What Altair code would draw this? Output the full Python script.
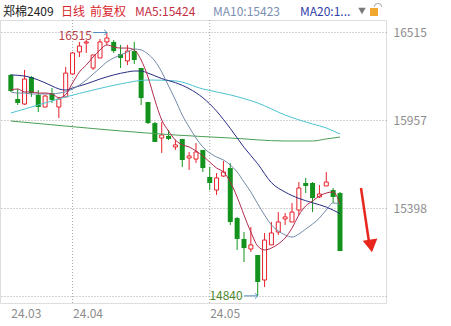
import altair as alt
import pandas as pd

# ---------------- data ----------------
opens = [16245, 16092, 16060, 16232, 16118, 16041, 16130, 16041, 16105, 16251,
         16391, 16448, 16289, 16353, 16455, 16455, 16378, 16334, 16397, 16289,
         16073, 15939, 15844, 15857, 15787, 15838, 15717, 15710, 15768, 15596,
         15513, 15602, 15653, 15335, 15202, 15138, 15100, 14941, 15164, 15246,
         15329, 15310, 15386, 15558, 15558, 15469, 15539, 15513, 15494]
highs = [16251, 16156, 16277, 16238, 16149, 16118, 16162, 16105, 16296, 16391,
         16455, 16467, 16372, 16474, 16515, 16467, 16436, 16436, 16455, 16289,
         16073, 15946, 15946, 15895, 15831, 15838, 15755, 15812, 15768, 15660,
         15621, 15698, 15685, 15342, 15246, 15278, 15100, 15240, 15310, 15373,
         15367, 15431, 15564, 15590, 15564, 15545, 15628, 15526, 15501]
lows = [16137, 16054, 16054, 16105, 16009, 16041, 16067, 15971, 16105, 16245,
        16359, 16385, 16277, 16353, 16436, 16385, 16289, 16308, 16315, 16054,
        15933, 15819, 15749, 15831, 15768, 15660, 15641, 15685, 15628, 15513,
        15482, 15596, 15291, 15132, 15055, 15119, 14840, 14896, 15164, 15227,
        15291, 15310, 15354, 15494, 15373, 15462, 15539, 15431, 15125]
closes = [16143, 16067, 16219, 16130, 16041, 16111, 16086, 16092, 16257, 16385,
          16429, 16455, 16372, 16455, 16480, 16397, 16353, 16397, 16340, 16098,
          15939, 15819, 15863, 15838, 15800, 15704, 15730, 15755, 15653, 15558,
          15590, 15628, 15310, 15202, 15144, 15164, 14928, 15195, 15240, 15310,
          15342, 15373, 15526, 15539, 15462, 15488, 15564, 15469, 15125]

ma5 = [16149, 16156, 16137, 16137, 16130, 16130, 16124, 16100, 16120, 16194,
       16264, 16308, 16359, 16404, 16436, 16423, 16416, 16416, 16404, 16340,
       16232, 16086, 15959, 15888, 15831, 15800, 15787, 15761, 15730, 15691,
       15653, 15628, 15564, 15469, 15354, 15246, 15157, 15132, 15144, 15170,
       15208, 15271, 15354, 15412, 15443, 15475, 15494, 15501, 15424]
ma10 = [16137, 16130, 16130, 16124, 16124, 16124, 16124, 16130, 16137, 16156,
        16181, 16213, 16251, 16289, 16328, 16353, 16372, 16391, 16410, 16404,
        16378, 16334, 16264, 16175, 16086, 15990, 15914, 15844, 15787, 15749,
        15723, 15704, 15672, 15628, 15564, 15501, 15425, 15354, 15291, 15253,
        15227, 15214, 15233, 15265, 15297, 15335, 15386, 15431, 15423]
ma20_idx = [0, 2, 4, 6, 7, 8, 9, 10, 11, 13, 15, 17, 18, 19, 20, 22, 24, 26, 28,
            30, 32, 34, 36, 38, 40, 42, 44, 46, 48]
ma20 = [16245, 16238, 16213, 16175, 16156, 16149, 16162, 16175, 16188, 16219,
        16245, 16264, 16270, 16270, 16257, 16222, 16196, 16158, 16100, 16015,
        15905, 15785, 15680, 15560, 15500, 15460, 15432, 15405, 15363]
ma60_idx = [0, 4, 8, 12, 16, 20, 24, 28, 32, 36, 40, 44, 46, 48]
ma60 = [16003, 16054, 16105, 16149, 16188, 16213, 16207, 16156, 16118, 16067,
        15990, 15933, 15908, 15869]
ma120_idx = [0, 8, 16, 24, 32, 40, 44, 46, 48]
ma120 = [15952, 15920, 15889, 15863, 15844, 15825, 15825, 15838, 15850]

date_ticks = [0, 9, 29]
date_labels = ["24.03", "24.04", "24.05"]
month_lines = [9, 29]
price_ticks = [14840, 15398, 15957, 16515]
price_labels = ["", "15398", "15957", "16515"]

high_i, high_v, high_t = 14, 16515, "16515"
low_i, low_v, low_t = 36, 14840, "14840"

header_texts = ["郑棉2409", "日线", "前复权", "MA5:15424", "MA10:15423", "MA20:1..."]

# ---------------- styles / layout ----------------
FONT = "Noto Sans CJK SC"
RED = "#e8202a"
GREEN = "#13931d"
C_MA5 = "#b02a4c"
C_MA10 = "#7189a8"
C_MA20 = "#262d82"
C_MA60 = "#4cc3d2"
C_MA120 = "#4a9f55"
GRID = "#a8a8a8"
LABEL = "#8c8c8c"
header_x = [3, 61, 90, 135, 213, 300]
header_colors = ["#222222", "#d8262e", "#d8262e", "#c42e44", "#7a8fb0", "#3040a8"]

W, H = 386, 283
xs = alt.Scale(domain=[-0.852, 53.98], nice=False, zero=False)
ys = alt.Scale(domain=[14794.6, 16594.5], nice=False, zero=False)

n = len(opens)
candles = pd.DataFrame({"i": list(range(n)), "open": opens, "high": highs,
                        "low": lows, "close": closes})
candles["dir"] = ["up" if c >= o else "down" for o, c in zip(opens, closes)]

x_expr = " : ".join(f"datum.value == {v} ? '{t}'" for v, t in zip(date_ticks, date_labels)) + " : ''"
y_expr = " : ".join(f"datum.value == {v} ? '{t}'" for v, t in zip(price_ticks, price_labels)) + " : ''"

x_axis = alt.Axis(values=date_ticks, labelExpr=x_expr, grid=False, domain=False, ticks=False,
                  labelAlign="left", labelBaseline="top", labelPadding=5,
                  labelColor=LABEL, labelFontSize=12, labelFont=FONT, title=None,
                  labelFlush=False, labelOverlap=False)
y_axis = alt.Axis(orient="right", values=price_ticks, labelExpr=y_expr, grid=True,
                  gridColor=GRID, gridDash=[1, 2], gridWidth=1, domain=False, ticks=False,
                  labelColor=LABEL, labelFontSize=12, labelFont=FONT, labelPadding=7,
                  labelBaseline="middle", title=None, labelOverlap=False, labelFlush=False)

def X(f="i"):
    return alt.X(f"{f}:Q", scale=xs, axis=x_axis, title=None)

def Y(f):
    return alt.Y(f"{f}:Q", scale=ys, axis=y_axis, title=None)

vlines = alt.Chart(pd.DataFrame({"i": month_lines})).mark_rule(
    color=GRID, strokeDash=[1, 2], strokeWidth=1).encode(
    x=X(), y=alt.value(0), y2=alt.value(H))

wicks = alt.Chart(candles).mark_rule(strokeWidth=1).encode(
    x=X(), y=Y("low"), y2="high:Q",
    color=alt.Color("dir:N", scale=alt.Scale(domain=["up", "down"], range=[RED, GREEN]), legend=None),
)
body_down = alt.Chart(candles).transform_filter("datum.dir == 'down'").mark_bar(
    size=5, color=GREEN).encode(x=X(), y=Y("open"), y2="close")
body_up = alt.Chart(candles).transform_filter("datum.dir == 'up'").mark_bar(
    size=4, fill="white", stroke=RED, strokeWidth=1).encode(x=X(), y=Y("open"), y2="close")

def ma_line(idx, vals, color):
    df = pd.DataFrame({"i": idx, "v": vals})
    return alt.Chart(df).mark_line(color=color, strokeWidth=1, interpolate="monotone").encode(
        x=X(), y=Y("v"))

ma_layers = [
    ma_line(ma120_idx, ma120, C_MA120),
    ma_line(ma60_idx, ma60, C_MA60),
    ma_line(ma20_idx, ma20, C_MA20),
    ma_line(list(range(n)), ma10, C_MA10),
    ma_line(list(range(n)), ma5, C_MA5),
]

def extreme(i, v, t, tcolor, dy):
    df = pd.DataFrame({"i": [i], "v": [v], "t": [t]})
    base = alt.Chart(df)
    arrow = base.transform_calculate(i0="datum.i - 2").mark_rule(
        color="#4f8fbd", strokeWidth=1).encode(x=X("i0"), x2="i", y=Y("v"))
    head = base.mark_point(shape="M-1,-1L0,0L-1,1", filled=False, size=30,
                           color="#4f8fbd", strokeWidth=1, opacity=1).encode(x=X(), y=Y("v"))
    label = base.mark_text(align="right", baseline="middle", dx=-15, dy=dy, font=FONT,
                           fontSize=12, color=tcolor).encode(x=X(), y=Y("v"), text="t:N")
    return [arrow, head, label]

ann = extreme(high_i, high_v, high_t, "#b8404a", 4) + extreme(low_i, low_v, low_t, "#4f8a30", 0)

header = alt.Chart(pd.DataFrame({"t": header_texts, "px": header_x, "c": header_colors})).mark_text(
    align="left", baseline="middle", font=FONT, fontSize=12).encode(
    x=alt.X("px:Q", scale=None), y=alt.value(-8), text="t:N",
    color=alt.Color("c:N", scale=None))

tri = alt.Chart(pd.DataFrame({"a": [0]})).mark_point(
    shape="triangle-down", filled=True, size=55, color="#7a7a7a", opacity=1).encode(
    x=alt.value(362), y=alt.value(-9))
lock = alt.Chart(pd.DataFrame({"a": [0]})).mark_rect(color="#f0a830").encode(
    x=alt.value(370), x2=alt.value(378), y=alt.value(-12), y2=alt.value(-4))
shackle = alt.Chart(pd.DataFrame({"a": [0]})).mark_arc(
    radius=4, radius2=3, theta=4.712, theta2=7.854, color="#b0b0b0").encode(
    x=alt.value(378), y=alt.value(-13))

big_shaft = alt.Chart(pd.DataFrame({"a": [0]})).mark_rule(color="#e8261e", strokeWidth=2.5).encode(
    x=alt.value(361), y=alt.value(168), x2=alt.value(369), y2=alt.value(222))
big_head = alt.Chart(pd.DataFrame({"a": [0]})).mark_point(
    shape="triangle-down", filled=True, size=220, color="#e8261e", opacity=1, angle=351).encode(
    x=alt.value(371), y=alt.value(226))

chart = alt.layer(
    vlines, wicks, body_down, body_up, *ma_layers, *ann,
    header, tri, lock, shackle, big_shaft, big_head,
).properties(
    width=W, height=H,
    autosize=alt.AutoSizeParams(type="none"),
    padding={"left": 0, "top": 20, "right": 65, "bottom": 23},
).configure_view(stroke="#dcdcdc", strokeWidth=1).configure(background="white")

chart.save("out.html", embed_options={"renderer": "svg", "actions": False})
